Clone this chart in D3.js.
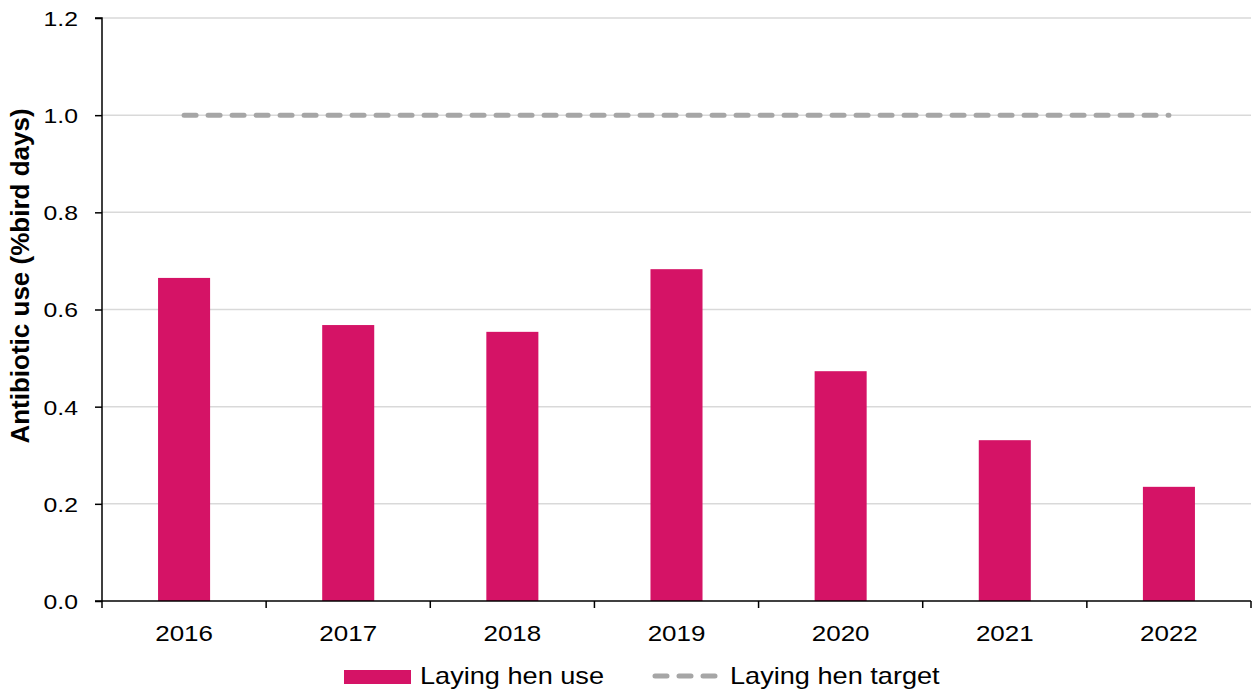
<!DOCTYPE html>
<meta charset="utf-8">
<head>
  <title>Laying hen antibiotic use</title>
  <style>
    body { margin: 0; background: #fff; }
    text { font-family: "Liberation Sans", Arial, sans-serif; }
  </style>
</head>
<script src="https://d3js.org/d3.v7.min.js"></script>
<svg id="chart" width="1252" height="693"></svg>
<script>
// data
var years = ["2016", "2017", "2018", "2019", "2020", "2021", "2022"]
var henUse = [0.665, 0.568, 0.554, 0.683, 0.473, 0.331, 0.235]
var henTarget = [1.0, 1.0, 1.0, 1.0, 1.0, 1.0, 1.0]
var yTicks = [0, 0.2, 0.4, 0.6, 0.8, 1.0, 1.2]

var svg = d3.select("#chart")
// horizontal labels in the original look a bit wide, so stretch them
var stretch = 1.18
var plotLeft = 102, plotRight = 1251, plotTop = 18, plotBottom = 601

var x = d3.scaleBand().domain(years).range([plotLeft, plotRight]).paddingInner(0).paddingOuter(0)
var y = d3.scaleLinear().domain([0, 1.2]).range([plotBottom, plotTop])
var barW = x.bandwidth() * 0.317

// gridlines
svg.append("g").selectAll("line").data(yTicks.filter(d => d > 0)).join("line")
  .attr("x1", plotLeft).attr("x2", plotRight)
  .attr("y1", d => y(d)).attr("y2", d => y(d))
  .attr("stroke", "#d9d9d9").attr("stroke-width", 1.5)

// bars
svg.append("g").selectAll("rect").data(henUse).join("rect")
  .attr("x", (d, i) => x(years[i]) + x.bandwidth() / 2 - barW / 2)
  .attr("width", barW)
  .attr("y", d => y(d))
  .attr("height", d => y(0) - y(d))
  .attr("fill", "#d51366")

// target line
var line = d3.line()
  .x((d, i) => x(years[i]) + x.bandwidth() / 2)
  .y(d => y(d))
svg.append("path").datum(henTarget)
  .attr("d", line)
  .attr("fill", "none")
  .attr("stroke", "#a6a6a6")
  .attr("stroke-width", 5)
  .attr("stroke-linecap", "round")
  .attr("stroke-dasharray", "12 12")

// axes
var yAxis = svg.append("g")
  .attr("transform", "translate(" + plotLeft + ",0)")
  .call(d3.axisLeft(y).tickValues(yTicks).tickFormat(d3.format(".1f")).tickSize(7))
yAxis.select(".domain").attr("stroke", "#000").attr("stroke-width", 1.5)
  .attr("d", "M-7," + plotTop + "H0V" + plotBottom + "H-7")
yAxis.selectAll(".tick line").attr("stroke-width", 1.5)
yAxis.selectAll("text")
  .attr("x", 0).attr("dy", "0.35em")
  .attr("transform", "translate(-24,0) scale(" + stretch + ",1)")
  .style("font-size", "21px").attr("fill", "#000")
  .style("font-family", "'Liberation Sans', Arial, sans-serif")

var xAxis = svg.append("g")
  .attr("transform", "translate(0," + plotBottom + ")")
  .call(d3.axisBottom(x).tickSize(0))
xAxis.select(".domain").attr("stroke", "#000").attr("stroke-width", 1.5)
  .attr("d", "M" + plotLeft + ",0H" + plotRight)
xAxis.selectAll("text")
  .attr("y", 40).attr("dy", 0)
  .attr("transform", "scale(" + stretch + ",1)")
  .style("font-size", "22px").attr("fill", "#000")
  .style("font-family", "'Liberation Sans', Arial, sans-serif")

// band boundary ticks
var bounds = years.map(d => x(d)).concat([plotRight])
xAxis.append("g").selectAll("line").data(bounds).join("line")
  .attr("x1", d => d).attr("x2", d => d)
  .attr("y1", 0).attr("y2", 7)
  .attr("stroke", "#000").attr("stroke-width", 1.5)

// y axis title
svg.append("text")
  .attr("transform", "translate(29,276) rotate(-90)")
  .attr("text-anchor", "middle")
  .style("font-size", "26px").style("font-weight", "bold")
  .text("Antibiotic use (%bird days)")

// legend
var legend = svg.append("g")
legend.append("rect")
  .attr("x", 344).attr("y", 670).attr("width", 67).attr("height", 14)
  .attr("fill", "#d51366")
legend.append("text")
  .attr("transform", "translate(420,684) scale(" + stretch + ",1)")
  .style("font-size", "23px")
  .text("Laying hen use")
legend.append("line")
  .attr("x1", 655).attr("x2", 715).attr("y1", 676).attr("y2", 676)
  .attr("stroke", "#a6a6a6").attr("stroke-width", 5)
  .attr("stroke-linecap", "round").attr("stroke-dasharray", "12 12")
legend.append("text")
  .attr("transform", "translate(730,684) scale(" + stretch + ",1)")
  .style("font-size", "23px")
  .text("Laying hen target")
</script>
